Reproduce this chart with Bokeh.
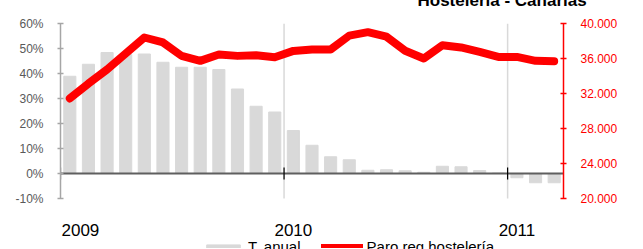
from bokeh.plotting import figure
from bokeh.models import (Range1d, LinearAxis, FixedTicker, Legend, LegendItem, Label)
from bokeh.embed import file_html
from bokeh.resources import INLINE
import math

# ---- data ----
months = ["ene-09", "feb-09", "mar-09", "abr-09", "may-09", "jun-09", "jul-09", "ago-09",
          "sep-09", "oct-09", "nov-09", "dic-09", "ene-10", "feb-10", "mar-10", "abr-10",
          "may-10", "jun-10", "jul-10", "ago-10", "sep-10", "oct-10", "nov-10", "dic-10",
          "ene-11", "feb-11", "mar-11"]
tasa_anual = [38.9, 43.7, 48.4, 47.6, 47.8, 44.5, 42.5, 42.5, 41.6, 33.8, 26.9, 24.6,
              17.2, 11.3, 6.7, 5.5, 1.3, 1.5, 1.1, 0.5, 2.9, 2.7, 1.2, 0.2,
              -1.7, -3.7, -3.7]
paro_reg = [31430, 33140, 34740, 36570, 38400, 37830, 36300, 35730, 36460, 36300, 36380, 36150,
            36870, 37030, 37030, 38610, 39010, 38490, 36890, 36000, 37520, 37260, 36750, 36180,
            36180, 35730, 35690]
years = ["2009", "2010", "2011"]
left_ticks = [-10, 0, 10, 20, 30, 40, 50, 60]
right_ticks = [20000, 24000, 28000, 32000, 36000, 40000]
title_text = "Hostelería - Canarias"
legend_labels = ["T. anual", "Paro reg hostelería"]

x = list(range(len(months)))
x_lo, x_hi = -0.5, len(months) - 0.5
year_pos = [12 * k for k in range(len(years))]
year_bounds = [12 * k - 0.5 for k in range(len(years))]

# ---- layout (page pixels) ----
FONT = "Liberation Sans"
W = 643
HIDDEN_TOP = 40            # canvas rows above the window (title is cut there)
PAGE_H = 249
AX_TOP, AX_BOT = 23, 198   # pixel rows of 60% / -10%
AX_L, AX_R = 60, 563       # pixel columns of the two value axes

L_MIN, L_MAX = left_ticks[0], left_ticks[-1]
R_MIN, R_MAX = right_ticks[0], right_ticks[-1]
ppu_l = (AX_BOT - AX_TOP) / (L_MAX - L_MIN)
ppu_r = (AX_BOT - AX_TOP) / (R_MAX - R_MIN)


def page_y_to_left(py):
    return L_MAX - (py - AX_TOP) / ppu_l


p = figure(width=W, height=PAGE_H + HIDDEN_TOP, output_backend="svg", toolbar_location=None,
           x_axis_location=None,
           x_range=Range1d(x_lo, x_hi),
           y_range=Range1d(L_MIN - (PAGE_H - AX_BOT) / ppu_l, L_MAX),
           min_border=0, min_border_left=AX_L, min_border_right=W - AX_R,
           min_border_top=AX_TOP + HIDDEN_TOP)
p.styles = {"margin-top": f"-{HIDDEN_TOP}px"}
p.outline_line_color = None
p.extra_y_ranges = {"right": Range1d(R_MIN - (PAGE_H - AX_BOT) / ppu_r, R_MAX)}
p.xgrid.visible = False
p.ygrid.visible = False

# title (mostly above the window, as in the reference)
p.title.text = title_text
p.title.text_font = FONT
p.title.text_font_size = "17px"
p.title.text_font_style = "bold"
p.title.text_color = "#000000"
p.title.align = "left"
p.title.offset = 417 - AX_L
p.title.standoff = 27

# year-boundary grid lines
p.segment(x0=year_bounds[1:], y0=[L_MIN] * (len(years) - 1),
          x1=year_bounds[1:], y1=[L_MAX] * (len(years) - 1),
          line_color="#D9D9D9", line_width=1.5)

# bars
bars = p.vbar(x=x, top=tasa_anual, width=0.65, color="#D9D9D9")

# zero line with year-boundary ticks
p.line(x=[x_lo, x_hi], y=[0, 0], line_color="#5F5F5F", line_width=2)
p.scatter(x=year_bounds, y=[0] * len(year_bounds), marker="dash", angle=math.pi / 2,
          size=12, line_color="#000000", line_width=1.2)

# line
line = p.line(x=x, y=paro_reg, y_range_name="right", line_color="#FF0000",
              line_width=8, line_join="round", line_cap="round")

# year labels (the first one kept inside the plotting area so it is not clipped)
for k, (pos, yr) in enumerate(zip(year_pos, years)):
    if k == 0:
        lab = Label(x=x_lo, y=page_y_to_left(229), text=yr, x_offset=1,
                    text_align="left")
    else:
        lab = Label(x=pos, y=page_y_to_left(229), text=yr, text_align="center")
    lab.text_font = FONT
    lab.text_font_size = "17px"
    lab.text_color = "#000000"
    lab.text_baseline = "alphabetic"
    p.add_layout(lab)

# left axis
ya = p.yaxis[0]
ya.bounds = (L_MIN, L_MAX)
ya.ticker = FixedTicker(ticks=left_ticks)
ya.major_label_overrides = {t: f"{t}%" for t in left_ticks}
ya.axis_line_color = "#A6A6A6"
ya.axis_line_width = 1.5
ya.major_tick_line_color = "#A6A6A6"
ya.major_tick_line_width = 1.5
ya.major_tick_in = 3
ya.major_tick_out = 3
ya.minor_tick_line_color = None
ya.major_label_standoff = 14
ya.major_label_text_font = FONT
ya.major_label_text_font_size = "12px"
ya.major_label_text_color = "#595959"

# right axis
ra = LinearAxis(y_range_name="right")
ra.bounds = (R_MIN, R_MAX)
ra.ticker = FixedTicker(ticks=right_ticks)
ra.major_label_overrides = {t: f"{t // 1000}.000" for t in right_ticks}
ra.axis_line_color = "#FF0000"
ra.axis_line_width = 1.5
ra.major_tick_line_color = "#FF0000"
ra.major_tick_line_width = 1.5
ra.major_tick_in = 3
ra.major_tick_out = 3
ra.minor_tick_line_color = None
ra.major_label_standoff = 14
ra.major_label_text_font = FONT
ra.major_label_text_font_size = "12px"
ra.major_label_text_color = "#FF0000"
p.add_layout(ra, "right")

# legend (cut by the window bottom, as in the reference)
legend = Legend(items=[LegendItem(label=legend_labels[0], renderers=[bars]),
                       LegendItem(label=legend_labels[1], renderers=[line])],
                orientation="horizontal", location=(202 - AX_L, -7),
                padding=0, margin=0, spacing=20, label_standoff=4,
                glyph_width=42, glyph_height=4, label_height=20,
                border_line_color=None, background_fill_alpha=0,
                label_text_font=FONT, label_text_font_size="15px",
                label_text_color="#000000")
p.add_layout(legend, "center")

open("out.html", "w").write(file_html(p, INLINE))
